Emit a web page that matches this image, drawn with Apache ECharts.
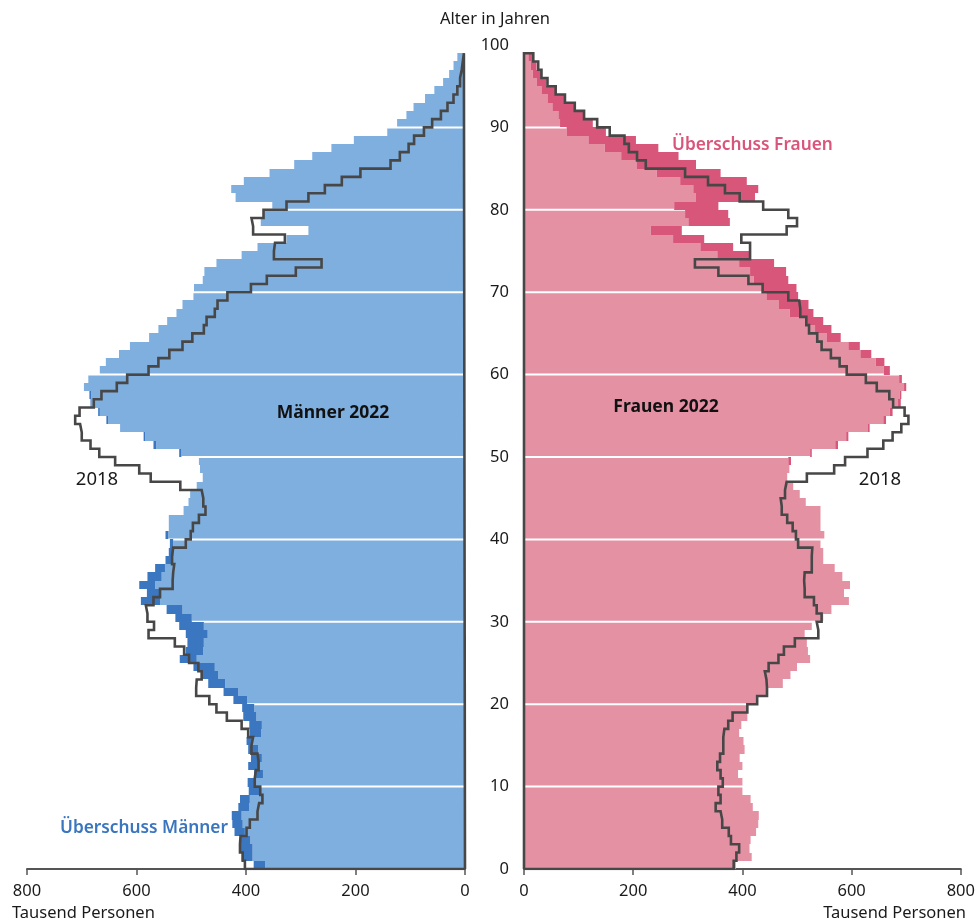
<!DOCTYPE html>
<html><head><meta charset="utf-8">
<script src="https://cdn.jsdelivr.net/npm/echarts@6/dist/echarts.min.js"></script>
<style>html,body{margin:0;padding:0;background:#fff}#c{width:978px;height:922px}</style>
</head><body><div id="c"></div>
<script>
// Ages 0..98 (index = age), values in thousand persons
const men2022 = [386,408,410,411,421,425,426,414,411,395, 397,385,396,391,396,399,393,394,405,407,
 423,441,469,481,496,521,510,507,510,522, 529,545,592,581,595,580,566,547,541,539,
 547,541,541,514,505,502,490,479,484,486, 522,569,587,630,655,670,684,686,696,688,
 667,656,632,612,577,560,544,527,516,496, 495,479,476,454,408,379,326,286,373,368,
 352,419,427,404,357,312,279,244,203,142, 124,107,94,73,56,40,29,21,14];
const menSurplus = [21,20,22,19,19,19,18,20,18,20, 14,16,20,20,18,12,21,23,24,22,
 25,27,31,30,39,31,32,30,40,45, 30,29,35,24,29,26,18,11,9,6,
 5,0,0,0,0,0,0,0,0,0, 4,5,3,0,3,3,2,3,0,0,
 0,0,0,0,0,0,0,0,0,0, 0,0,0,0,0,0,0,0,0,0,
 0,0,0,0,0,0,0,0,0,0, 0,0,0,0,0,0,0,0,0];
const women2022 = [388,417,413,415,425,429,430,419,415,400, 400,392,400,395,404,402,394,398,409,410,
 427,447,474,488,500,524,520,518,514,527, 548,563,595,586,597,583,569,548,548,543,
 550,543,543,543,516,505,493,482,486,489, 527,575,594,633,663,675,690,691,700,692,
 670,660,636,615,580,563,548,530,521,502, 499,484,480,458,414,383,330,289,377,374,
 356,423,429,408,360,315,283,246,205,150, 126,109,95,74,57,41,32,23,17];
const womenSurplus = [0,0,0,0,0,0,0,0,0,0, 0,0,0,0,0,0,0,0,0,0,
 0,0,0,0,0,0,0,0,0,0, 0,0,0,0,0,0,0,0,0,0,
 0,0,0,0,0,0,0,0,0,5, 3,5,4,3,5,5,5,3,4,5,
 11,16,20,21,26,30,31,43,54,58, 62,63,66,64,60,60,57,57,76,79,
 81,108,119,122,117,109,105,98,87,72, 60,46,43,31,25,18,16,11,9];
const men2018 = [402,406,411,410,399,393,379,376,370,374, 384,382,377,379,390,387,396,408,435,454,
 467,491,490,481,487,504,513,530,578,568, 580,583,569,557,534,533,531,535,533,510,
 501,497,486,474,478,481,520,574,595,639, 668,684,700,703,712,704,678,664,636,617,
 578,560,540,516,498,477,472,457,452,434, 391,362,309,262,349,347,329,387,390,368,
 326,286,256,225,191,136,119,103,93,75, 60,44,32,21,14,9,6,4,2];
const women2018 = [384,389,394,379,375,363,360,351,360,356, 364,360,354,359,365,365,367,374,382,409,
 427,445,444,441,448,466,476,496,539,536, 545,536,531,514,513,514,527,527,528,502,
 498,492,482,472,470,478,481,518,568,588, 629,658,675,691,704,697,676,669,646,626,
 591,578,562,545,537,522,517,506,504,484, 437,411,356,313,414,414,398,481,500,484,
 438,395,368,337,295,223,207,192,184,157, 134,110,93,75,58,43,32,26,17];
const ageGridLines = [10,20,30,40,50,60,70,80,90];

const FONT = '"Noto Sans", "Open Sans", sans-serif';
const C = {
  menLight: '#7fafdf', menDark: '#3a77c0',
  womenLight: '#e591a4', womenDark: '#d8567a',
  outline: '#474747', axis: '#555555', text: '#1a1a1a'
};

function barData(total, surplus) {
  return total.map((v, age) => [age, v - surplus[age], v]);
}
function outlineData(vals) {
  const pts = [[0, 0]];
  vals.forEach((v, age) => { pts.push([v, age]); pts.push([v, age + 1]); });
  pts.push([0, vals.length]);
  pts.push([0, 0]);
  return pts;
}
function rectBetween(api, x0, x1, age, color) {
  const a = api.coord([x0, age]);
  const b = api.coord([x1, age + 1]);
  const top = Math.round(b[1]), bottom = Math.round(a[1]);
  return {
    type: 'rect',
    shape: { x: Math.min(a[0], b[0]), y: top, width: Math.abs(b[0] - a[0]), height: bottom - top },
    style: { fill: color }
  };
}
function lightSeries(idx, data, color) {
  return {
    type: 'custom', xAxisIndex: idx, yAxisIndex: idx, z: 2, data: data,
    renderItem: (p, api) => rectBetween(api, 0, api.value(1), api.value(0), color)
  };
}
function darkSeries(idx, data, color) {
  return {
    type: 'custom', xAxisIndex: idx, yAxisIndex: idx, z: 4, data: data,
    renderItem: (p, api) => {
      if (api.value(2) - api.value(1) <= 0) return null;
      return rectBetween(api, api.value(1), api.value(2), api.value(0), color);
    }
  };
}
function gridSeries(idx) {
  return {
    type: 'custom', xAxisIndex: idx, yAxisIndex: idx, z: 3, data: ageGridLines,
    renderItem: (p, api) => {
      const a = api.coord([0, api.value(0)]);
      const b = api.coord([800, api.value(0)]);
      return { type: 'line', shape: { x1: a[0], y1: a[1], x2: b[0], y2: b[1] }, style: { stroke: '#ffffff', lineWidth: 2 } };
    }
  };
}
function outlineSeries(idx, vals) {
  return {
    type: 'line', xAxisIndex: idx, yAxisIndex: idx, z: 5, data: outlineData(vals),
    symbol: 'none', silent: true, animation: false,
    lineStyle: { color: C.outline, width: 2.6, join: 'miter' }
  };
}
function xAxis(idx, inverse) {
  return {
    type: 'value', gridIndex: idx, min: 0, max: 800, interval: 200, inverse: inverse, offset: 5,
    axisLine: { show: true, lineStyle: { color: C.axis, width: 2 } },
    axisTick: { show: true, length: 6, lineStyle: { color: C.axis, width: 1.5 } },
    axisLabel: { margin: 9, fontSize: 16.5, color: C.text, fontFamily: FONT },
    splitLine: { show: false }
  };
}
function yAxis(idx, showLabels) {
  return {
    type: 'value', gridIndex: idx, min: 0, max: 100, interval: 10,
    axisLine: { show: false }, axisTick: { show: false }, splitLine: { show: false },
    axisLabel: { show: showLabels, margin: 15, fontSize: 16.5, color: C.text, fontFamily: FONT }
  };
}

const chart = echarts.init(document.getElementById('c'), null, { renderer: 'canvas' });
chart.setOption({
  animation: false,
  backgroundColor: '#ffffff',
  grid: [
    { left: 27, top: 45, width: 438, height: 824 },
    { left: 524, top: 45, width: 437, height: 824 }
  ],
  xAxis: [xAxis(0, true), xAxis(1, false)],
  yAxis: [yAxis(0, false), yAxis(1, true)],
  series: [
    lightSeries(0, barData(men2022, menSurplus), C.menLight),
    gridSeries(0),
    darkSeries(0, barData(men2022, menSurplus), C.menDark),
    outlineSeries(0, men2018),
    lightSeries(1, barData(women2022, womenSurplus), C.womenLight),
    gridSeries(1),
    darkSeries(1, barData(women2022, womenSurplus), C.womenDark),
    outlineSeries(1, women2018)
  ],
  graphic: [
    { type: 'text', x: 495, y: 19, style: { text: 'Alter in Jahren', textAlign: 'center', textVerticalAlign: 'middle', font: '16.5px ' + FONT, fill: C.text } },
    { type: 'text', x: 333, y: 413, z: 10, style: { text: 'Männer 2022', textAlign: 'center', textVerticalAlign: 'middle', font: 'bold 17.5px ' + FONT, fill: '#111' } },
    { type: 'text', x: 666, y: 407, z: 10, style: { text: 'Frauen 2022', textAlign: 'center', textVerticalAlign: 'middle', font: 'bold 17.5px ' + FONT, fill: '#111' } },
    { type: 'text', x: 97, y: 480, style: { text: '2018', textAlign: 'center', textVerticalAlign: 'middle', font: '18.5px ' + FONT, fill: C.text } },
    { type: 'text', x: 880, y: 480, style: { text: '2018', textAlign: 'center', textVerticalAlign: 'middle', font: '18.5px ' + FONT, fill: C.text } },
    { type: 'text', x: 60, y: 828, style: { text: 'Überschuss Männer', textAlign: 'left', textVerticalAlign: 'middle', font: '600 17.3px ' + FONT, fill: '#3a75bf' } },
    { type: 'text', x: 672, y: 145, style: { text: 'Überschuss Frauen', textAlign: 'left', textVerticalAlign: 'middle', font: '600 17.3px ' + FONT, fill: '#d9557a' } },
    { type: 'text', x: 12, y: 913, style: { text: 'Tausend Personen', textAlign: 'left', textVerticalAlign: 'middle', font: '16.5px ' + FONT, fill: C.text } },
    { type: 'text', x: 966, y: 913, style: { text: 'Tausend Personen', textAlign: 'right', textVerticalAlign: 'middle', font: '16.5px ' + FONT, fill: C.text } }
  ]
});
</script></body></html>
